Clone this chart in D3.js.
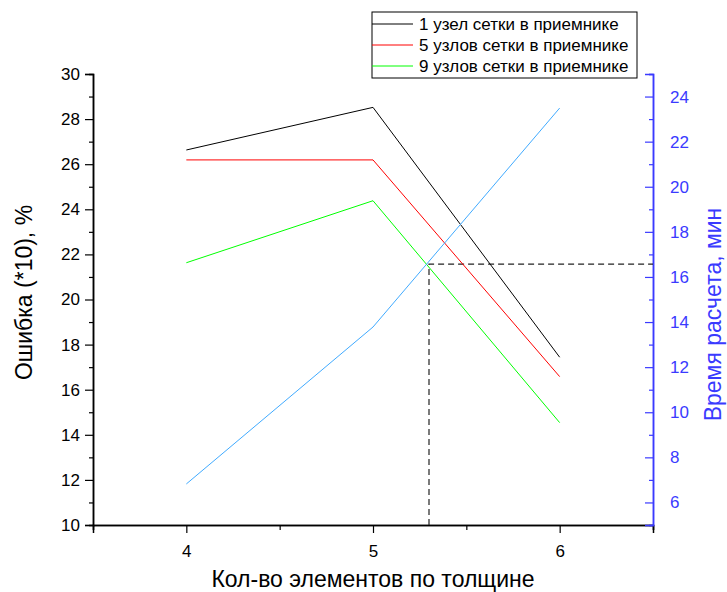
<!DOCTYPE html>
<html>
<head>
<meta charset="utf-8">
<script src="https://cdn.jsdelivr.net/npm/d3@7"></script>
<style>
  body { margin: 0; background: #fff; }
  svg { font-family: "Liberation Sans", Arial, sans-serif; }
</style>
</head>
<body>
<div id="chart"></div>
<script>
// number of elements across thickness
const elements = [4, 5, 6];

// error (*10), % — left axis
const errorSeries = [
    { name: '1 узел сетки в приемнике', color: '#000000', values: [26.63, 28.52, 17.44] },
    { name: '5 узлов сетки в приемнике', color: '#ff0000', values: [26.19, 26.19, 16.58] },
    { name: '9 узлов сетки в приемнике', color: '#00ff00', values: [21.63, 24.38, 14.54] },
];

// calculation time, min — right axis
const timeValues = [6.82, 13.78, 23.49];

// chosen point marked by dashed lines
const markX = 5.3;
const markTime = 16.57;

const leftTicks = [10, 12, 14, 16, 18, 20, 22, 24, 26, 28, 30];
const rightTicks = [6, 8, 10, 12, 14, 16, 18, 20, 22, 24];

const width = 727;
const height = 592;
const margin = { top: 74, right: 74, bottom: 67, left: 93 };

const svg = d3.select('#chart')
    .append('svg')
    .attr('width', width)
    .attr('height', height);

const x = d3.scaleLinear().domain([3.5, 6.5]).range([margin.left, width - margin.right]);
const yLeft = d3.scaleLinear().domain([10, 30]).range([height - margin.bottom, margin.top]);
const yRight = d3.scaleLinear().domain([5, 25]).range([height - margin.bottom, margin.top]);

const blueAxis = '#3a3aff';
const blueLine = '#40aaff';

// minor ticks first, then major ticks with labels
function styleAxis(g, color) {
    g.select('.domain').attr('stroke', color).attr('stroke-width', 1.5);
    g.selectAll('.tick line').attr('stroke', color).attr('stroke-width', 1.2);
    g.selectAll('.tick text').attr('fill', color).attr('font-size', '17px');
}

// bottom axis
const xMinor = svg.append('g')
    .attr('transform', `translate(0,${height - margin.bottom})`)
    .call(d3.axisBottom(x).tickValues([3.5, 4.5, 5.5, 6.5]).tickSize(5).tickFormat(''));
styleAxis(xMinor, '#000');
const xAxis = svg.append('g')
    .attr('transform', `translate(0,${height - margin.bottom})`)
    .call(d3.axisBottom(x).tickValues(elements).tickSize(8).tickPadding(12).tickFormat(d3.format('d')));
styleAxis(xAxis, '#000');

// left axis
const yMinor = svg.append('g')
    .attr('transform', `translate(${margin.left},0)`)
    .call(d3.axisLeft(yLeft).tickValues(d3.range(11, 30, 2)).tickSize(4).tickFormat(''));
styleAxis(yMinor, '#000');
const yAxis = svg.append('g')
    .attr('transform', `translate(${margin.left},0)`)
    .call(d3.axisLeft(yLeft).tickValues(leftTicks).tickSize(8).tickPadding(5));
styleAxis(yAxis, '#000');

// right axis: ticks point into the plot, labels outside
const rx = width - margin.right;
const rMinor = svg.append('g')
    .attr('transform', `translate(${rx},0)`)
    .call(d3.axisRight(yRight).tickValues(d3.range(5, 26, 2)).tickSize(-4).tickFormat(''));
styleAxis(rMinor, blueAxis);
const rAxis = svg.append('g')
    .attr('transform', `translate(${rx},0)`)
    .call(d3.axisRight(yRight).tickValues(rightTicks).tickSize(-8).tickPadding(17));
styleAxis(rAxis, blueAxis);

// dashed marker lines
const mx = x(markX);
const my = yRight(markTime);
svg.append('path')
    .attr('d', `M${mx},${yRight(5)}V${my}H${rx}`)
    .attr('fill', 'none')
    .attr('stroke', '#222')
    .attr('stroke-width', 1.2)
    .attr('stroke-dasharray', '6,4');

// error lines
const lineLeft = d3.line()
    .x((d, i) => x(elements[i]))
    .y(d => yLeft(d));

svg.selectAll('.err')
    .data(errorSeries)
    .enter()
    .append('path')
    .attr('class', 'err')
    .attr('d', d => lineLeft(d.values))
    .attr('fill', 'none')
    .attr('stroke', d => d.color)
    .attr('stroke-width', 1);

// time line
const lineRight = d3.line()
    .x((d, i) => x(elements[i]))
    .y(d => yRight(d));

svg.append('path')
    .attr('d', lineRight(timeValues))
    .attr('fill', 'none')
    .attr('stroke', blueLine)
    .attr('stroke-width', 1);

// axis titles
svg.append('text')
    .attr('x', x(5))
    .attr('y', 587)
    .attr('text-anchor', 'middle')
    .attr('font-size', '23px')
    .text('Кол-во элементов по толщине');

svg.append('text')
    .attr('transform', `translate(32,${yLeft(20) - 7}) rotate(-90)`)
    .attr('text-anchor', 'middle')
    .attr('font-size', '23px')
    .text('Ошибка (*10), %');

svg.append('text')
    .attr('transform', `translate(721,${yRight(15) + 15}) rotate(-90)`)
    .attr('text-anchor', 'middle')
    .attr('font-size', '23px')
    .attr('fill', blueAxis)
    .text('Время расчета, мин');

// legend
const legend = svg.append('g').attr('transform', 'translate(372,12)');
legend.append('rect')
    .attr('width', 265)
    .attr('height', 66)
    .attr('fill', '#fff')
    .attr('stroke', '#000')
    .attr('stroke-width', 1);

const rows = legend.selectAll('.row')
    .data(errorSeries)
    .enter()
    .append('g')
    .attr('transform', (d, i) => `translate(0,${12 + i * 21})`);

rows.append('line')
    .attr('x1', 0)
    .attr('x2', 41)
    .attr('stroke', d => d.color)
    .attr('stroke-width', 1);

rows.append('text')
    .attr('x', 47)
    .attr('dy', '0.35em')
    .attr('font-size', '17px')
    .text(d => d.name);
</script>
</body>
</html>
